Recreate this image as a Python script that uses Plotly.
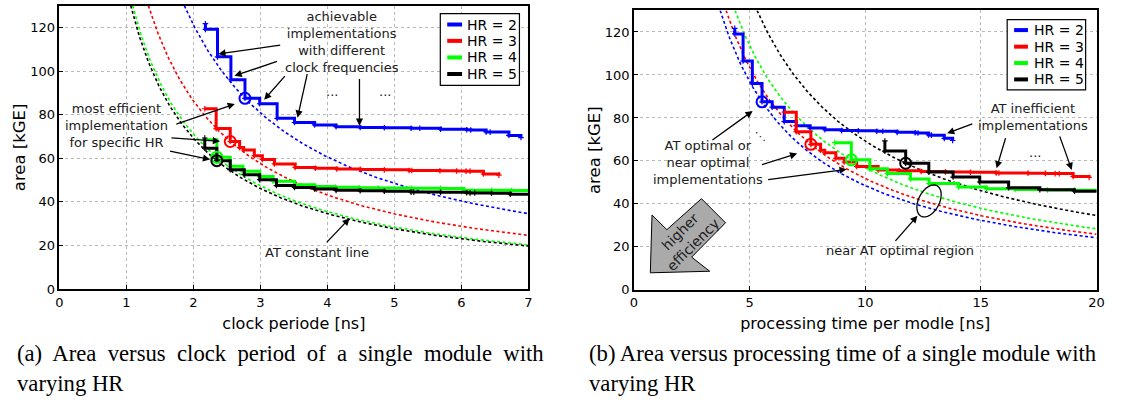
import numpy as np
import plotly.graph_objects as go

W, H = 1125, 405

# ---------------- data ----------------
HR = [2, 3, 4, 5]
colors = ["#0000ff", "#ff0000", "#00ff00", "#000000"]
legend_labels = ["HR = 2", "HR = 3", "HR = 4", "HR = 5"]

# clock period [ns] and area [kGE] of achievable implementations
blue_T = [2.18, 2.18, 2.36, 2.56, 2.77, 2.99, 3.25, 3.51, 3.81, 4.13, 4.49, 4.85, 5.25, 5.38, 5.69, 6.08, 6.14, 6.37, 6.43, 6.71, 6.89]
blue_A = [121.7, 119.1, 106.5, 96.0, 87.5, 85.0, 78.3, 76.4, 75.3, 74.5, 74.1, 74.0, 73.8, 73.8, 73.3, 73.1, 73.0, 72.1, 72.0, 70.5, 69.5]

red_T = [2.17, 2.34, 2.55, 2.69, 2.75, 2.91, 3.03, 3.21, 3.52, 3.82, 4.14, 4.49, 4.85, 5.22, 5.26, 5.68, 5.93, 6.07, 6.13, 6.33, 6.56]
red_A = [82.7, 73.6, 67.7, 65.0, 63.8, 61.2, 59.5, 57.4, 55.8, 55.4, 55.1, 54.9, 54.7, 54.4, 54.4, 54.3, 54.2, 54.1, 54.1, 52.8, 52.3]

green_T = [2.17, 2.35, 2.55, 2.74, 2.99, 3.19, 3.51, 3.81, 4.12, 4.47, 4.76, 5.25, 5.69, 6.04, 6.45, 6.75, 7.1]
green_A = [68.5, 60.5, 56.3, 54.1, 51.6, 49.5, 47.9, 47.1, 46.7, 46.5, 46.4, 46.3, 46.2, 45.4, 45.3, 45.2, 45.1]

black_T = [2.17, 2.17, 2.35, 2.55, 2.76, 2.99, 3.24, 3.51, 3.81, 4.13, 4.49, 4.85, 5.25, 5.29, 5.69, 6.08, 6.13, 6.20, 6.45, 6.73, 7.05]
black_A = [69.3, 64.6, 58.9, 54.8, 52.5, 50.2, 47.5, 46.6, 45.9, 45.3, 45.1, 44.9, 44.5, 44.5, 44.4, 44.2, 44.1, 44.1, 44.0, 43.5, 43.4]

# index of the most AT-efficient implementation per HR
opt_idx = [4, 2, 1, 2]

series_T = [blue_T, red_T, green_T, black_T]
series_A = [blue_A, red_A, green_A, black_A]

# axis ranges / ticks
x1_range = [0, 7]
x2_range = [0, 20]
y_range = [0, 130]

# ---------------- helpers ----------------
def PX(x):
    return x / W


def PY(y):
    return 1 - y / H


FONT = "DejaVu Sans, Verdana, sans-serif"
SERIF = "Liberation Serif, Times New Roman, serif"

fig = go.Figure()

# AT constant lines (through the optimal point of each HR)
for k, h in enumerate(HR):
    To = series_T[k][opt_idx[k]]
    Ao = series_A[k][opt_idx[k]]
    c = To * Ao
    T = np.linspace(c / y_range[1], x1_range[1], 300)
    fig.add_trace(go.Scatter(x=T, y=c / T, mode="lines", xaxis="x", yaxis="y",
                             line=dict(color=colors[k], width=1.6, dash="3px,2.5px"),
                             showlegend=False, hoverinfo="skip"))
    t = np.linspace(h * c / y_range[1], x2_range[1], 300)
    fig.add_trace(go.Scatter(x=t, y=h * c / t, mode="lines", xaxis="x2", yaxis="y2",
                             line=dict(color=colors[k], width=1.6, dash="3px,2.5px"),
                             showlegend=False, hoverinfo="skip"))

# step curves
for k, h in enumerate(HR):
    T = np.array(series_T[k])
    A = np.array(series_A[k])
    for xa, ya, xs in (("x", "y", T), ("x2", "y2", h * T)):
        fig.add_trace(go.Scatter(
            x=xs, y=A, mode="lines+markers", xaxis=xa, yaxis=ya,
            line=dict(color=colors[k], width=3, shape="hv"),
            marker=dict(symbol="cross-thin", size=4, line=dict(color=colors[k], width=1.2)),
            name=legend_labels[k], showlegend=False))

# optimal point circles
for k, h in enumerate(HR):
    To = series_T[k][opt_idx[k]]
    Ao = series_A[k][opt_idx[k]]
    for xa, ya, xv in (("x", "y", To), ("x2", "y2", h * To)):
        fig.add_trace(go.Scatter(
            x=[xv], y=[Ao], mode="markers", xaxis=xa, yaxis=ya,
            marker=dict(symbol="circle-open", size=11, color=colors[k], line=dict(width=2, color=colors[k])),
            showlegend=False, hoverinfo="skip"))

# ---------------- layout ----------------
axis_common = dict(showgrid=True, gridcolor="#b8b8b8", griddash="dot", gridwidth=1,
                   showline=True, linecolor="black", linewidth=1.5, mirror=True,
                   ticks="inside", ticklen=4, tickcolor="black", zeroline=False,
                   tickfont=dict(family=FONT, size=13, color="black"))

fig.update_layout(
    width=W, height=H, margin=dict(l=0, r=0, t=0, b=0),
    paper_bgcolor="white", plot_bgcolor="white", showlegend=False,
    xaxis=dict(domain=[PX(56), PX(530)], range=x1_range, dtick=1, tick0=0, anchor="y",
               title=dict(text="clock periode [ns]", font=dict(family=FONT, size=16, color="black"), standoff=9),
               **axis_common),
    yaxis=dict(domain=[PY(295), PY(5.7)], range=y_range, dtick=20, tick0=0, anchor="x",
               title=dict(text="area [kGE]", font=dict(family=FONT, size=16.5, color="black"), standoff=0),
               **axis_common),
    xaxis2=dict(domain=[PX(636.7), PX(1104.3)], range=x2_range, dtick=5, tick0=0, anchor="y2",
                title=dict(text="processing time per modle [ns]", font=dict(family=FONT, size=16, color="black"), standoff=9),
                **axis_common),
    yaxis2=dict(domain=[PY(295.7), PY(10.7)], range=y_range, dtick=20, tick0=0, anchor="x2",
                title=dict(text="area [kGE]", font=dict(family=FONT, size=16.5, color="black"), standoff=0),
                **axis_common),
)

shapes = []
annotations = []

# manual legends
for (bx0, by0, bx1, by1, lx0, lx1, tx, rows) in (
        (441, 14, 521, 87, 448, 463, 466, [25, 41.7, 58.6, 75.5]),
        (1014, 20, 1093.3, 91.7, 1021, 1035, 1039, [30.7, 47.6, 64.3, 81])):
    shapes.append(dict(type="rect", xref="paper", yref="paper", x0=PX(bx0), x1=PX(bx1),
                       y0=PY(by1), y1=PY(by0), line=dict(color="black", width=1.2), fillcolor="white",
                       layer="above"))
    for k in range(4):
        shapes.append(dict(type="line", xref="paper", yref="paper", x0=PX(lx0), x1=PX(lx1),
                           y0=PY(rows[k]), y1=PY(rows[k]), line=dict(color=colors[k], width=4), layer="above"))
        annotations.append(dict(x=PX(tx), y=PY(rows[k]), xref="paper", yref="paper", text=legend_labels[k],
                                showarrow=False, xanchor="left", yanchor="middle",
                                font=dict(family=FONT, size=14, color="black")))


def arrow(tail, tip):
    annotations.append(dict(x=PX(tip[0]), y=PY(tip[1]), xref="paper", yref="paper",
                            ax=tail[0] - tip[0], ay=tail[1] - tip[1], axref="pixel", ayref="pixel",
                            text="", showarrow=True, arrowhead=2, arrowsize=1.1, arrowwidth=1.3,
                            arrowcolor="black", standoff=0, startstandoff=0))


def label(x, y, text, size=13, angle=0):
    annotations.append(dict(x=PX(x), y=PY(y), xref="paper", yref="paper", text=text, showarrow=False,
                            xanchor="center", yanchor="middle", textangle=angle,
                            font=dict(family=FONT, size=size, color="#202020")))


# left plot annotations
label(341.7, 43, "achievable<br>implementations<br>with different<br>clock frequencies")
for tail, tip in (((280, 46), (216.7, 55)), ((277, 62.5), (233, 77.3)), ((285, 76.7), (263, 101.7)),
                  ((306.7, 75), (296.7, 120)), ((359.3, 80), (359.3, 128.3))):
    arrow(tail, tip)
label(331.7, 93, "...")
label(385, 93, "...")
label(113.3, 128.3, "most efficient<br>implementation<br>for specific HR")
for tail, tip in (((173.3, 126.7), (233.3, 106)), ((168.3, 140.7), (218.3, 144)), ((166.7, 154), (208.3, 162.7))):
    arrow(tail, tip)
label(316, 257.3, "AT constant line")
arrow((325, 248.3), (349.3, 222.7))

# right plot annotations
label(711.7, 165.7, "AT optimal or<br>near optimal<br>implementations")
for tail, tip in (((715, 143.3), (756.7, 113.3)), ((765, 168.3), (801.7, 156.7)), ((771.7, 183.3), (851.7, 172.7))):
    arrow(tail, tip)
label(765, 139, "⋱", size=11)
label(1040, 119.3, "AT inefficient<br>implementations")
for tail, tip in (((980, 126), (953.3, 136)), ((1012.7, 140), (1003.3, 171.7)), ((1066.7, 138.3), (1079.3, 173.3))):
    arrow(tail, tip)
label(1041.7, 156, "...")
label(905.5, 256, "near AT optimal region")
arrow((900, 246.7), (923.3, 220))

# ellipse around near-optimal region
cx, cy, a, b, ang = 935, 205, 17.5, 10.5, np.deg2rad(27)
th = np.linspace(0, 2 * np.pi, 60)
u, v = a * np.cos(th), b * np.sin(th)
ex = cx + u * np.sin(ang) + v * np.cos(ang)
ey = cy - u * np.cos(ang) + v * np.sin(ang)
path = "M " + " L ".join(f"{PX(X):.5f},{PY(Y):.5f}" for X, Y in zip(ex, ey)) + " Z"
shapes.append(dict(type="path", xref="paper", yref="paper", path=path,
                   line=dict(color="black", width=1.3), layer="above"))

# big grey arrow "higher efficiency"
poly = [(653.3, 278.3), (655, 219.3), (670, 234.3), (705, 202.7), (729.3, 227.3), (695, 262.3), (713.3, 276.7)]
path = "M " + " L ".join(f"{PX(X):.5f},{PY(Y):.5f}" for X, Y in poly) + " Z"
shapes.append(dict(type="path", xref="paper", yref="paper", path=path,
                   line=dict(color="black", width=1), fillcolor="#aaaaaa", layer="above"))
label(690, 243, "higher<br>efficiency", size=14, angle=-45)

# captions (justified first line emulated with wider word gaps)
CAP = 22.7
cap_a1 = "(a) Area versus clock period of a single module with".replace(" ", "\u00a0 ")
cap_b1 = "(b) Area versus processing time of a single module with"
for x0, line1 in ((10.7, cap_a1), (588.8, cap_b1)):
    annotations.append(dict(x=PX(x0), y=PY(361), xref="paper", yref="paper", showarrow=False,
                            xanchor="left", yanchor="middle", text=line1,
                            font=dict(family=SERIF, size=CAP, color="black")))
    annotations.append(dict(x=PX(x0), y=PY(391), xref="paper", yref="paper", showarrow=False,
                            xanchor="left", yanchor="middle", text="varying HR",
                            font=dict(family=SERIF, size=CAP, color="black")))

fig.update_layout(shapes=shapes, annotations=annotations)
fig.write_html("out.html")
